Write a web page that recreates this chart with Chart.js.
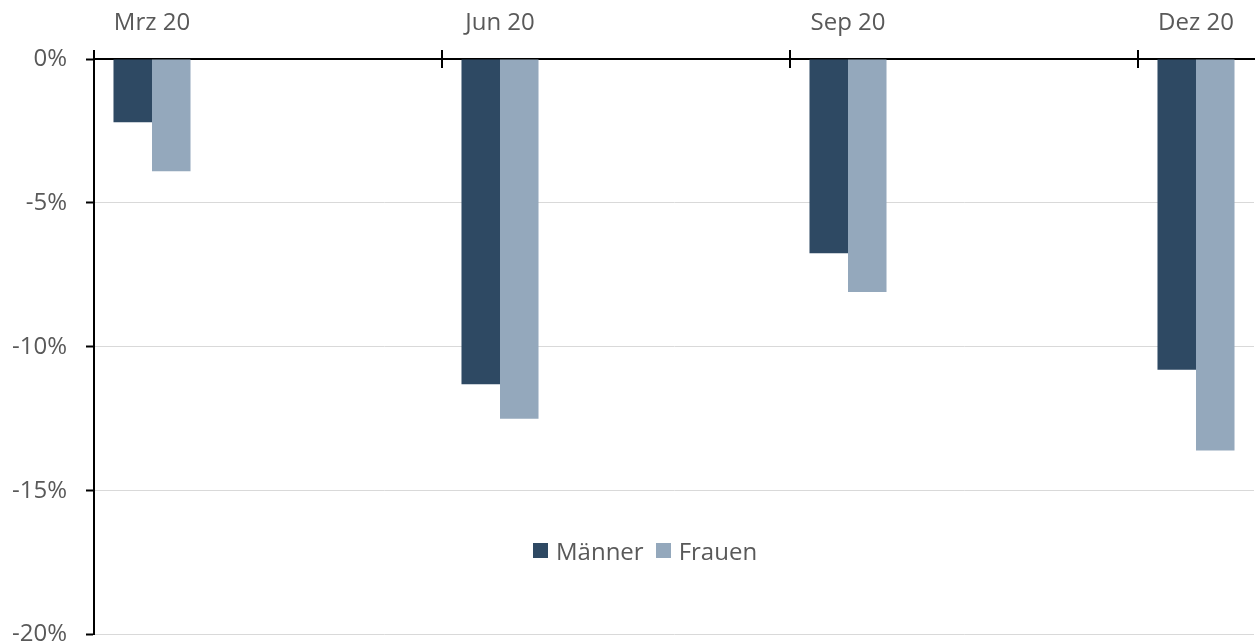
<!DOCTYPE html>
<html lang="de">
<head>
    <meta charset="UTF-8">
    <title>Männer / Frauen</title>
    <script src="https://cdn.jsdelivr.net/npm/chart.js"></script>
    <style>
        body { margin: 0; overflow: hidden; background: #fff; }
        #wrap { position: relative; width: 1255px; height: 668px; }
        #legend {
            position: absolute; left: 533px; top: 535px; height: 30px;
            display: flex; align-items: center;
            font-family: "Open Sans", sans-serif; font-size: 24px; color: #595959;
        }
        #legend .item { display: flex; align-items: center; margin-right: 12px; }
        #legend .box { width: 15px; height: 15px; margin-right: 8px; }
    </style>
</head>
<body>
<div id="wrap">
    <canvas id="chart"></canvas>
    <div id="legend"></div>
</div>
<script>
// Monate (nur jedes Quartal hat Werte)
const months = ['Mrz 20', 'Apr 20', 'Mai 20', 'Jun 20', 'Jul 20', 'Aug 20', 'Sep 20', 'Okt 20', 'Nov 20', 'Dez 20'];
const maenner = [-2.2, null, null, -11.3, null, null, -6.75, null, null, -10.8];
const frauen  = [-3.9, null, null, -12.5, null, null, -8.1, null, null, -13.6];
const yTicks = [0, -5, -10, -15, -20];

const textColor = '#595959';
const fontFam = '"Open Sans", sans-serif';

// Striche an den Quartalsgrenzen (kreuzen die Achse)
const quarterTicks = {
    id: 'quarterTicks',
    afterDraw(chart) {
        const x = chart.scales.x;
        const area = chart.chartArea;
        const slot = x.width / months.length;
        const ctx = chart.ctx;
        ctx.save();
        ctx.strokeStyle = '#000';
        ctx.lineWidth = 2;
        months.forEach((m, i) => {
            if (i % 3 !== 0) return;
            const px = Math.round(x.getPixelForValue(i) - slot / 2);
            ctx.beginPath();
            ctx.moveTo(px, area.top - 9);
            ctx.lineTo(px, area.top + 9);
            ctx.stroke();
        });
        ctx.restore();
    }
};

const chart = new Chart(document.getElementById('chart'), {
    type: 'bar',
    data: {
        labels: months,
        datasets: [
            { label: 'Männer', data: maenner, backgroundColor: '#2e4963' },
            { label: 'Frauen', data: frauen, backgroundColor: '#94a8bc' }
        ]
    },
    options: {
        responsive: true,
        maintainAspectRatio: false,
        animation: false,
        layout: { padding: { top: 0, right: 1, left: 0, bottom: 0 } },
        datasets: { bar: { categoryPercentage: 0.664, barPercentage: 1.0, skipNull: false } },
        plugins: {
            legend: { display: false },
            tooltip: { enabled: false }
        },
        scales: {
            x: {
                position: 'top',
                offset: true,
                grid: { display: false, drawTicks: false },
                border: { display: true, color: '#000', width: 2 },
                ticks: {
                    autoSkip: false,
                    maxRotation: 0,
                    padding: 21,
                    color: textColor,
                    font: { family: fontFam, size: 24 },
                    callback: (v, i) => (i % 3 === 0 ? months[i] : '')
                },
                afterFit: s => { s.height = 59; }
            },
            y: {
                min: -20,
                max: 0,
                afterBuildTicks: s => { s.ticks = yTicks.map(v => ({ value: v })); },
                grid: {
                    color: c => (c.tick && c.tick.value === 0 ? '#000' : '#d9d9d9'),
                    lineWidth: 1,
                    tickColor: '#000',
                    tickLength: 8,
                    tickWidth: 2
                },
                border: { display: true, color: '#000', width: 2 },
                ticks: {
                    padding: 19,
                    color: textColor,
                    font: { family: fontFam, size: 24 },
                    callback: v => v + '%'
                },
                afterFit: s => { s.width = 94; }
            }
        }
    },
    plugins: [quarterTicks]
});

// HTML-Legende aus den Datensätzen
const legend = document.getElementById('legend');
chart.data.datasets.forEach(ds => {
    const item = document.createElement('span');
    item.className = 'item';
    const box = document.createElement('span');
    box.className = 'box';
    box.style.background = ds.backgroundColor;
    const label = document.createElement('span');
    label.textContent = ds.label;
    item.appendChild(box);
    item.appendChild(label);
    legend.appendChild(item);
});
</script>
</body>
</html>
